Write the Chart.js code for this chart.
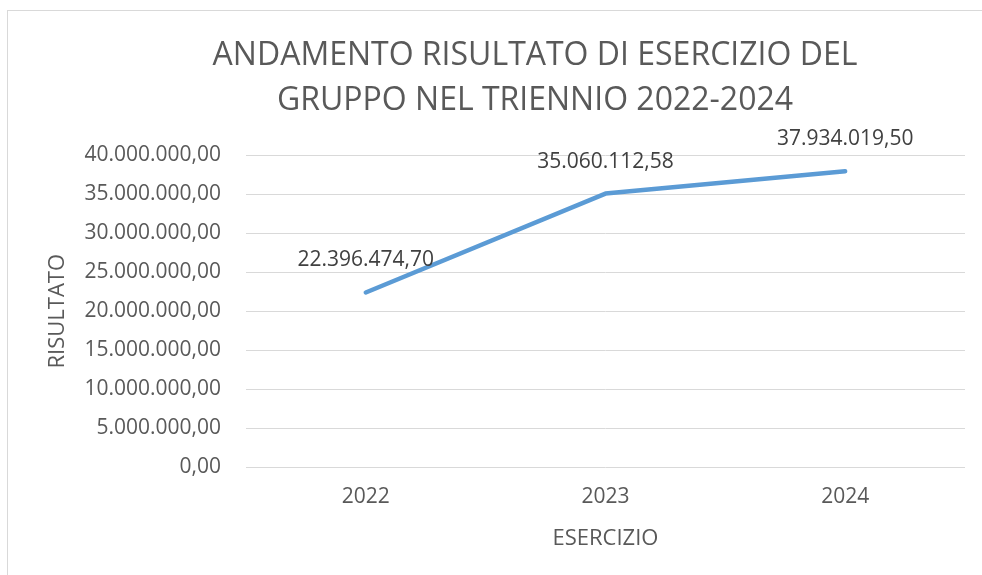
<!DOCTYPE html>
<html>
<head>
<meta charset="utf-8">
<script src="https://cdn.jsdelivr.net/npm/chart.js@4"></script>
<style>
    html, body { margin: 0; background: #fff; overflow: hidden; width: 982px; height: 575px; }
    .edge-top { position: absolute; left: 7px; top: 10px; width: 975px; height: 1px; background: #d9d9d9; }
    .edge-left { position: absolute; left: 7px; top: 10px; width: 1px; height: 565px; background: #d9d9d9; }
    .chart-box { position: absolute; left: 8px; top: 11px; width: 974px; height: 564px; }
</style>
</head>
<body>
<div class="edge-top"></div>
<div class="edge-left"></div>
<div class="chart-box"><canvas id="myChart"></canvas></div>
<script>
// Data
const years = ['2022', '2023', '2024'];
const results = [22396474.70, 35060112.58, 37934019.50];
const chartTitle = ['ANDAMENTO RISULTATO DI ESERCIZIO DEL', 'GRUPPO NEL TRIENNIO 2022-2024'];
const xTitle = 'ESERCIZIO';
const yTitle = 'RISULTATO';

// Italian number format, e.g. 40.000.000,00
function formatIt(v) {
    const parts = Math.abs(v).toFixed(2).split('.');
    const intPart = parts[0].replace(/\B(?=(\d{3})+(?!\d))/g, '.');
    return (v < 0 ? '-' : '') + intPart + ',' + parts[1];
}

// Chart title: drawn by hand because Excel centres it off the canvas middle
const titleDraw = {
    id: 'titleDraw',
    afterDraw(chart) {
        const ctx = chart.ctx;
        ctx.save();
        ctx.font = '32px "Open Sans"';
        ctx.fillStyle = '#595959';
        ctx.textAlign = 'center';
        ctx.textBaseline = 'middle';
        chartTitle.forEach((line, i) => {
            ctx.fillText(line, 527, 45 + i * 45);
        });
        ctx.restore();
    }
};

// Draw value labels above each point
const valueLabels = {
    id: 'valueLabels',
    afterDatasetsDraw(chart) {
        const ctx = chart.ctx;
        const meta = chart.getDatasetMeta(0);
        ctx.save();
        ctx.font = '21px "Open Sans"';
        ctx.fillStyle = '#404040';
        ctx.textAlign = 'center';
        ctx.textBaseline = 'middle';
        meta.data.forEach((pt, i) => {
            ctx.fillText(formatIt(results[i]), pt.x, pt.y - 32);
        });
        ctx.restore();
    }
};

function createChart() {
    const ctx = document.getElementById('myChart').getContext('2d');
    new Chart(ctx, {
        type: 'line',
        data: {
            labels: years,
            datasets: [{
                label: yTitle,
                data: results,
                borderColor: '#5B9BD5',
                borderWidth: 4.5,
                borderCapStyle: 'round',
                borderJoinStyle: 'round',
                pointRadius: 0,
                tension: 0,
                fill: false
            }]
        },
        options: {
            responsive: true,
            maintainAspectRatio: false,
            animation: false,
            layout: { padding: { left: 37, right: 17, bottom: 23, top: 144 } },
            plugins: {
                legend: { display: false },
                tooltip: { enabled: false },
                title: { display: false }
            },
            scales: {
                x: {
                    offset: true,
                    grid: { display: false, drawTicks: false },
                    border: { display: false },
                    ticks: {
                        color: '#595959',
                        font: { family: '"Open Sans"', size: 21 },
                        padding: 17
                    },
                    title: {
                        display: true,
                        text: xTitle,
                        color: '#595959',
                        font: { family: '"Open Sans"', size: 22 },
                        padding: { top: -1, bottom: 0 }
                    }
                },
                y: {
                    min: 0,
                    max: 40000000,
                    grid: { color: '#d9d9d9', lineWidth: 1, drawTicks: false },
                    border: { display: false },
                    ticks: {
                        stepSize: 5000000,
                        color: '#595959',
                        font: { family: '"Open Sans"', size: 21 },
                        padding: 25,
                        callback: function(value) { return formatIt(value); }
                    },
                    title: {
                        display: true,
                        text: yTitle,
                        color: '#595959',
                        font: { family: '"Open Sans"', size: 22 },
                        padding: { top: 0, bottom: -12 }
                    }
                }
            }
        },
        plugins: [valueLabels, titleDraw]
    });
}

// Make sure the font is ready before measuring text
Promise.all([
    document.fonts.load('21px "Open Sans"'),
    document.fonts.load('32px "Open Sans"')
]).then(createChart, createChart);
</script>
</body>
</html>
